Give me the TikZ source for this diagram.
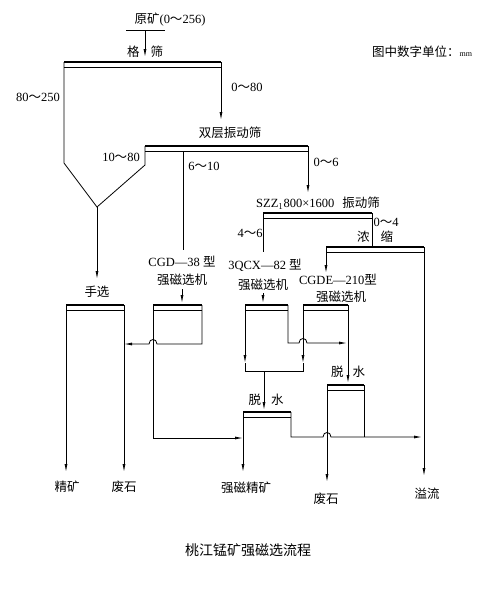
\documentclass[tikz,border=0pt]{standalone}
\usepackage{fontspec}
\setmainfont{Liberation Serif}
\newfontfamily\cjk{Noto Sans CJK SC}
\usetikzlibrary{arrows.meta}

\newcommand{\zh}[1]{{\cjk #1}}
\newcommand{\wave}{{\cjk ～}}
% screen deck: name, left x, right x, y
\newcommand{\sieve}[4]{%
  \coordinate (#1-l) at (#2,#4);
  \coordinate (#1-r) at (#3,#4);
  \draw[deck] (#1-l) -- (#1-r);
  \draw[flow] ([yshift=-5pt]#1-l) -- ([yshift=-5pt]#1-r);
}

\begin{document}
\begin{tikzpicture}[x=1pt,y=-1pt,
    flow/.style={line width=0.8pt},
    deck/.style={line width=2.4pt},
    tip/.style={-{Latex[length=8pt,width=3pt]}},
    lbl/.style={inner sep=0pt,font={\fontsize{12.5}{14}\selectfont}}]
    \useasboundingbox (0,0) rectangle (500,590);

    % Feed
    \node[lbl] (feed) at (170,20) {\zh{原矿}(0\wave256)};
    \coordinate (feedl) at (126,30);
    \coordinate (feedr) at (165,30);
    \coordinate (feedm) at (145,30);
    \coordinate (gridin) at (145,57);
    \draw[flow] (feedl) -- (feedr);
    \draw[flow,tip] (feedm) -- (gridin);
    \node[lbl] (gridtxt) at (145,52) {\zh{格}\hspace{11pt}\zh{筛}};
    \node[lbl] (unit) at (422,52) {\zh{图中数字单位：}{\footnotesize mm}};

    % Grizzly screen and hopper
    \sieve{grid}{64}{221}{62}
    \coordinate (hopl) at (64,163);
    \coordinate (apex) at (97,207);
    \coordinate (hopr) at (145,165);
    \coordinate (dblin) at (221,120);
    \draw[flow] (grid-l) -- (hopl) -- (apex) -- (hopr) -- (145,146);
    \draw[flow,tip] (grid-r) -- (dblin);
    \node[lbl] (s80) at (38,97) {80\wave250};
    \node[lbl] (s0a) at (247,87) {0\wave80};

    % Double deck screen
    \node[lbl] (dbltxt) at (230,133) {\zh{双层振动筛}};
    \sieve{dbl}{145}{308}{146}
    \coordinate (szzin) at (308,193);
    \coordinate (midtop) at (183,151);
    \coordinate (midend) at (183,250);
    \draw[flow,tip] (dbl-r) -- (szzin);
    \draw[flow] (midtop) -- (midend);
    \node[lbl] (s10) at (121,157) {10\wave80};
    \node[lbl] (s6) at (204,166) {6\wave10};
    \node[lbl] (s0b) at (326,162) {0\wave6};

    % Hand picking
    \coordinate (handin) at (97,279);
    \draw[flow,tip] (apex) -- (handin);
    \node[lbl] (handtxt) at (97,292) {\zh{手选}};
    \sieve{hand}{66}{124}{305}
    \coordinate (conc1) at (66,472);
    \coordinate (tail1) at (124,472);
    \draw[flow,tip] (hand-l) -- (conc1);
    \draw[flow,tip] (hand-r) -- (tail1);
    \node[lbl] (conctxt) at (67,487) {\zh{精矿}};
    \node[lbl] (tailtxt) at (124,487) {\zh{废石}};

    % CGD-38
    \node[lbl] (cgdtxt) at (182,262) {CGD—38 \zh{型}};
    \node[lbl] (cgdtxt2) at (182,280) {\zh{强磁选机}};
    \coordinate (cgdfeed) at (182,289);
    \coordinate (cgdin) at (182,303);
    \draw[flow,tip] (cgdfeed) -- (cgdin);
    \sieve{cgd}{153}{202}{305}
    \coordinate (cgdbr) at (202,344);
    \coordinate (cgdout) at (153,438);
    \coordinate (dwaw) at (243,438);
    \draw[flow,tip] (cgd-r) -- (cgdbr) -- (157,344)
        .. controls (157,338) and (149,338) .. (149,344) -- (hand-r |- cgdbr);
    \draw[flow,tip] (cgd-l) -- (cgdout) -- (dwaw);

    % SZZ vibrating screen
    \node[lbl] (szztxt) at (318,203) {SZZ$_1$800×1600\hspace{8pt}\zh{振动筛}};
    \sieve{szz}{263}{372}{213}
    \coordinate (szzlo) at (263,252);
    \draw[flow] (szz-l) -- (szzlo);
    \node[lbl] (s4) at (250,233) {4\wave6};
    \node[lbl] (s0c) at (386,222) {0\wave4};

    % Thickener
    \node[lbl] (thktxt) at (375,237) {\zh{浓}\hspace{11pt}\zh{缩}};
    \sieve{thk}{326}{424}{247}
    \coordinate (thkup) at (372,247);
    \coordinate (thkdn) at (326,273);
    \coordinate (ovfl) at (424,476);
    \draw[flow] (szz-r) -- (thkup);
    \draw[flow,tip] (thk-l) -- (thkdn);
    \draw[flow,tip] (thk-r) -- (ovfl);
    \node[lbl] (ovtxt) at (427,494) {\zh{溢流}};

    % 3QCX-82
    \node[lbl] (qcxtxt) at (265,265) {3QCX—82 \zh{型}};
    \node[lbl] (qcxtxt2) at (263,285) {\zh{强磁选机}};
    \coordinate (qcxfeed) at (263,293);
    \coordinate (qcxin) at (263,303);
    \draw[flow,tip] (qcxfeed) -- (qcxin);
    \sieve{qcx}{245}{288}{305}

    % CGDE-210
    \node[lbl] (cgdetxt) at (338,280) {CGDE—210\zh{型}};
    \node[lbl] (cgdetxt2) at (341,297) {\zh{强磁选机}};
    \sieve{cgde}{303}{348}{305}
    \coordinate (qcxbr) at (288,343);
    \coordinate (cgdeout) at (347,343);
    \coordinate (qcxmid) at (245,363);
    \coordinate (cgdemid) at (303,363);
    \coordinate (qcxbl) at (245,371);
    \coordinate (cgdebl) at (303,371);
    \coordinate (qcxbm) at (264,371);
    \coordinate (dwain) at (264,410);
    \coordinate (dwbin) at (348,383);
    \draw[flow,tip] (qcx-r) -- (qcxbr) -- (299,343)
        .. controls (299,337) and (307,337) .. (307,343) -- (cgdeout);
    \draw[flow,tip] (qcx-l) -- (qcxmid);
    \draw[flow,tip] (cgde-l) -- (cgdemid);
    \draw[flow] (qcxmid) -- (qcxbl) -- (cgdebl) -- (cgdemid);
    \draw[flow,tip] (qcxbm) -- (dwain);
    \draw[flow,tip] (cgde-r) -- (dwbin);

    % Dewatering
    \node[lbl] (dwatxt) at (266,400) {\zh{脱}\hspace{10pt}\zh{水}};
    \node[lbl] (dwbtxt) at (348,372) {\zh{脱}\hspace{9pt}\zh{水}};
    \sieve{dwa}{243}{291}{412}
    \sieve{dwb}{327}{364}{385}
    \coordinate (dwabr) at (291,437);
    \coordinate (dwbbr) at (364,437);
    \coordinate (magc) at (243,472);
    \coordinate (tail2) at (327,482);
    \coordinate (ovin) at (422,437);
    \draw[flow,tip] (dwa-l) -- (magc);
    \draw[flow,tip] (dwa-r) -- (dwabr) -- (323,437)
        .. controls (323,431) and (331,431) .. (331,437) -- (ovin);
    \draw[flow] (dwb-r) -- (dwbbr);
    \draw[flow,tip] (dwb-l) -- (tail2);
    \node[lbl] (magtxt) at (246,488) {\zh{强磁精矿}};
    \node[lbl] (tail2txt) at (326,499) {\zh{废石}};

    % Title
    \node[lbl,font={\fontsize{14}{16}\selectfont}] (title) at (248,550) {\zh{桃江锰矿强磁选流程}};
\end{tikzpicture}
\end{document}
